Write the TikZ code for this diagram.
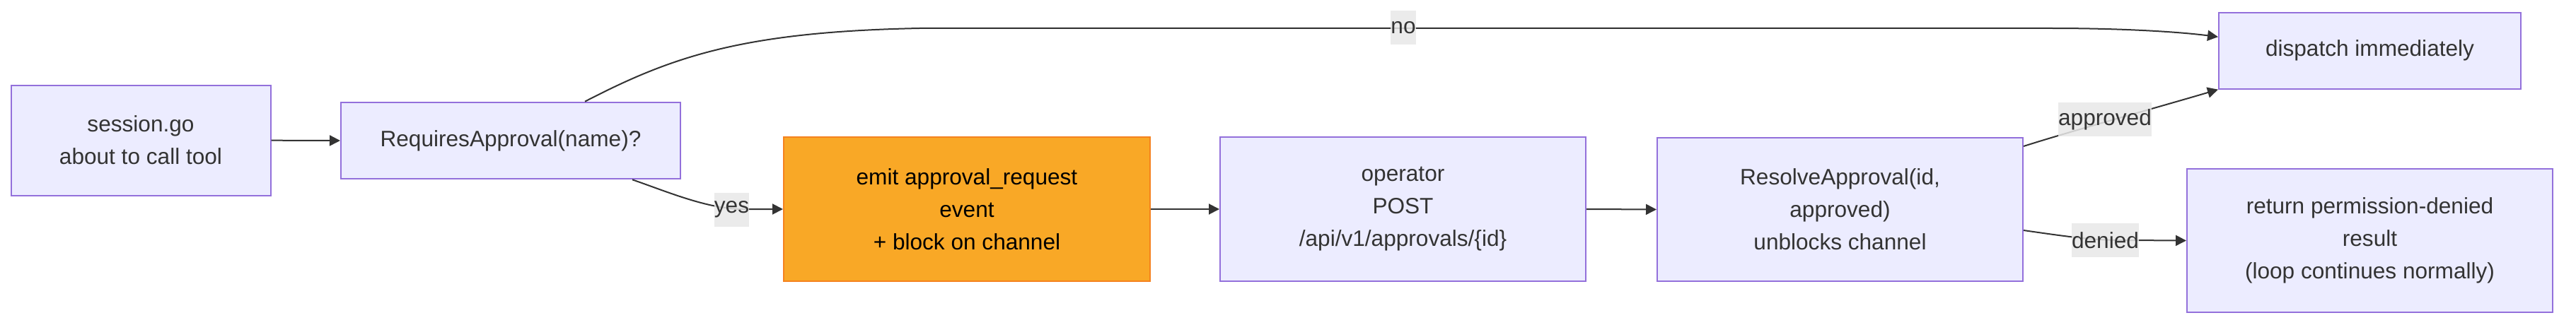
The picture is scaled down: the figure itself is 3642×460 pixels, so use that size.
\documentclass[tikz,border=0pt]{standalone}
\usepackage{fontspec}
\setmainfont{Liberation Sans}
\usetikzlibrary{arrows.meta,calc}
\definecolor{boxfill}{HTML}{ECECFF}
\definecolor{boxline}{HTML}{9370DB}
\definecolor{hotfill}{HTML}{F9A826}
\definecolor{hotline}{HTML}{F5821F}
\definecolor{ink}{HTML}{333333}
\definecolor{lblbg}{HTML}{E8E8E8}
\begin{document}
\begin{tikzpicture}[x=0.5pt,y=-0.5pt,
  box/.style={draw=boxline,fill=boxfill,line width=1pt,text=ink,align=center,
    font=\fontsize{15.8}{23}\selectfont,inner sep=0pt},
  hot/.style={box,draw=hotline,fill=hotfill,text=black},
  edge/.style={draw=ink,line width=1pt,-{Triangle[length=7.5pt,width=7.5pt]}},
  elabel/.style={fill=lblbg,fill opacity=0.85,text opacity=1,text=ink,
    font=\fontsize{15.8}{23}\selectfont,inner xsep=0pt,inner ysep=0pt,minimum height=24pt}]
\useasboundingbox (0,0) rectangle (3642,460);

\node[box,minimum width=183.5pt,minimum height=78pt] (s) at (199,198.7) {session.go\\about to call tool};
\node[box,minimum width=240pt,minimum height=54.3pt] (r) at (722,199) {RequiresApproval(name)?};
\node[hot,minimum width=259pt,minimum height=102pt] (e) at (1367,296) {emit approval\_request\\event\\+ block on channel};
\node[box,minimum width=258.5pt,minimum height=102pt] (o) at (1983.5,296) {operator\\POST\\/api/v1/approvals/\{id\}};
\node[box,minimum width=258.5pt,minimum height=101.5pt] (v) at (2601.5,296.5) {ResolveApproval(id,\\approved)\\unblocks channel};
\node[box,minimum width=213.5pt,minimum height=54pt] (d) at (3350.5,71.7) {dispatch immediately};
\node[box,minimum width=258.5pt,minimum height=101.8pt] (p) at (3350.5,340.5) {return permission-denied\\result\\(loop continues normally)};

% straight edges
\draw[edge] (s.east) -- (r.west);
\draw[edge] (e.east) -- (o.west);
\draw[edge] (o.east) -- (v.west);

% no
\draw[edge] ($(r.north west)+(346,0)$) .. controls (950,80) and (1050,45) .. (1300,40)
  -- (2900,40) .. controls (3000,40) and (3080,45) .. ($(d.north west)+(0,35.5)$);
\node[elabel] (lno) at (1984,39.5) {no};

% yes
\draw[edge] ($(r.south west)+(413,0)$) .. controls (940,270) and (1000,296) .. (1050,296) -- (e.west);
\node[elabel] (lyes) at (1034.5,296.5) {yes};

% approved
\draw[edge] ($(v.north east)+(0,13)$) .. controls (2930,185) and (3040,155) .. (d.south west);
\node[elabel] (lapp) at (2976,169) {approved};

% denied
\draw[edge] ($(v.north east)+(0,132)$) .. controls (2930,336) and (2960,340) .. (3000,340) -- (p.west);
\node[elabel] (lden) at (2976.5,340.3) {denied};
\end{tikzpicture}
\end{document}
